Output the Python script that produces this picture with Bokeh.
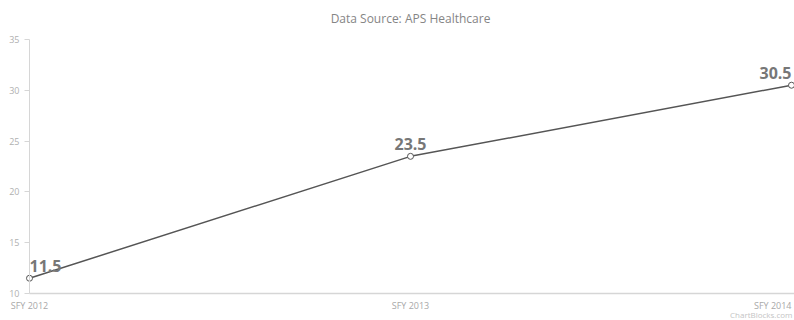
from bokeh.plotting import figure
from bokeh.models import Range1d, Label, FixedTicker, LinearAxis
from bokeh.embed import file_html
from bokeh.resources import INLINE

# Fiscal years and the plotted values
periods = ["SFY 2012", "SFY 2013", "SFY 2014"]
values = [11.5, 23.5, 30.5]
y_ticks = [10, 15, 20, 25, 30, 35]
title_text = "Data Source: APS Healthcare"
credit_text = "ChartBlocks.com"

xs = list(range(len(periods)))
y_lo, y_hi = y_ticks[0], y_ticks[-1]

# The frame fills the whole canvas; axes sit at fixed data locations inside it.
W, H = 794, 320
left, right, top, bottom = 29, 3, 39, 27
x_ppu = (W - left - right) / (len(periods) - 1)
y_ppu = (H - top - bottom) / (y_hi - y_lo)
x_range = Range1d(-left / x_ppu, (len(periods) - 1) + right / x_ppu)
y_range = Range1d(y_lo - bottom / y_ppu, y_hi + top / y_ppu)

p = figure(width=W, height=H, output_backend="svg", toolbar_location=None,
           x_range=x_range, y_range=y_range,
           x_axis_location=None, y_axis_location=None,
           min_border=0)
p.outline_line_color = None
p.background_fill_color = "white"
p.border_fill_color = "white"
p.xgrid.visible = False
p.ygrid.visible = False

font = "Open Sans"

yaxis = LinearAxis(fixed_location=0, bounds=(y_lo, y_hi),
                   ticker=FixedTicker(ticks=y_ticks))
yaxis.minor_tick_line_color = None
yaxis.major_tick_in = 0
yaxis.major_tick_out = 5
yaxis.major_tick_line_color = "#d6d6d6"
yaxis.axis_line_color = "#d6d6d6"
yaxis.major_label_text_font = font
yaxis.major_label_text_font_size = "9px"
yaxis.major_label_text_color = "#b0b0b0"
yaxis.major_label_standoff = 5
p.add_layout(yaxis, "left")

xaxis = LinearAxis(fixed_location=y_lo, bounds=(0, x_range.end),
                   ticker=FixedTicker(ticks=[]))
xaxis.minor_tick_line_color = None
xaxis.major_tick_line_color = None
xaxis.major_label_text_font_size = "0px"
xaxis.axis_line_color = "#d6d6d6"
xaxis.axis_line_width = 1.5
p.add_layout(xaxis, "below")

# series
p.line(xs, values, line_color="#555555", line_width=1.5)
p.scatter(xs, values, size=6, fill_color="white", line_color="#555555",
          line_width=1)

# value labels above each point
aligns = ["left", "center", "right"]
for x, v, a in zip(xs, values, aligns):
    p.add_layout(Label(x=x, y=v, text=f"{v}", text_align=a,
                       text_baseline="alphabetic", y_offset=12,
                       text_font=font, text_font_style="bold",
                       text_font_size="16px", text_color="#777777"))

# category labels under the x axis line
tick_aligns = ["center", "center", "right"]
for x, name, a in zip(xs, periods, tick_aligns):
    p.add_layout(Label(x=x, y=y_lo, text=name, text_align=a,
                       text_baseline="top", y_offset=-5,
                       text_font=font, text_font_size="9px",
                       text_color="#a8a8a8"))

p.add_layout(Label(x=len(periods) - 1, y=y_lo, text=credit_text,
                   text_align="right", text_baseline="top", y_offset=-15,
                   x_offset=1, text_font=font, text_font_size="8px",
                   text_color="#c4c4c4"))

p.add_layout(Label(x=(len(periods) - 1) / 2, y=y_hi, text=title_text,
                   text_align="center", text_baseline="middle", y_offset=21,
                   text_font=font, text_font_size="12px",
                   text_color="#858585"))

open("out.html", "w").write(file_html(p, INLINE))
